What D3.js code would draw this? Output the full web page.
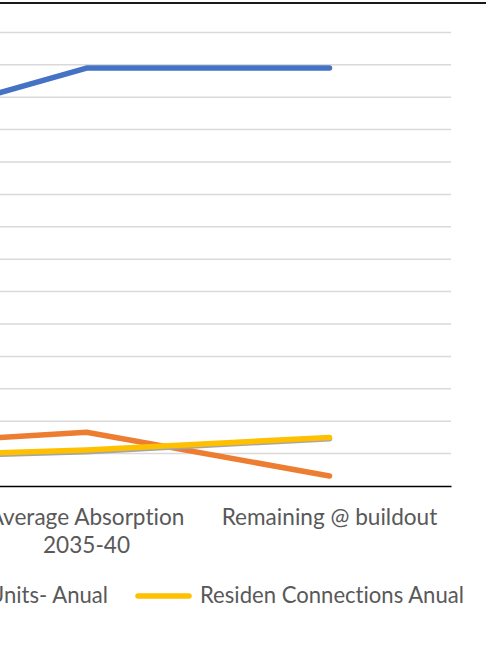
<!DOCTYPE html>
<html>
<head>
<meta charset="utf-8">
<script src="https://cdn.jsdelivr.net/npm/d3@7"></script>
<style>
  html, body { margin: 0; padding: 0; background: #fff; }
  svg { display: block; }
  text { font-family: "Lato", "Open Sans", sans-serif; fill: #595959; font-variant-ligatures: none; }
</style>
</head>
<body>
<svg id="chart" width="486" height="648"></svg>
<script>
// Absorption phases along the horizontal axis
const categories = ["Average Absorption 2030-35", "Average Absorption 2035-40", "Remaining @ buildout"];

// Series names and their values per phase
const seriesNames = ["Residen Units- Cumulative", "Commercial Units- Anual", "Residen Units- Anual", "Residen Connections Anual"];
const cumulativeUnits = [1077, 1290, 1290];
const commercialUnits = [120, 166, 31];
const residenUnits = [84, 106, 146];
const residenConnections = [88, 111, 150];

// Value axis ticks
const yTicks = [0, 100, 200, 300, 400, 500, 600, 700, 800, 900, 1000, 1100, 1200, 1300, 1400];

const colors = ["#4472C4", "#ED7D31", "#A5A5A5", "#FFC000"];
const seriesValues = [cumulativeUnits, commercialUnits, residenUnits, residenConnections];

const svg = d3.select("#chart");
const fontSize = 22.6;
const legendFontSize = 22.1;

// Plot area (the value axis sits off to the left)
const plotLeft = -278, plotRight = 451, plotTop = 32.4, plotBottom = 486;

const x = d3.scaleBand().domain(categories).range([plotLeft, plotRight]).padding(0);
const y = d3.scaleLinear().domain([0, 1400]).range([plotBottom, plotTop]);
const cx = c => x(c) + x.bandwidth() / 2;

// Frame line along the top
svg.append("rect").attr("x", 0).attr("y", 2).attr("width", 486).attr("height", 2).attr("fill", "#1a1a1a");

// Horizontal gridlines
svg.append("g").selectAll("line")
  .data(yTicks.filter(t => t > 0))
  .join("line")
  .attr("x1", plotLeft).attr("x2", plotRight)
  .attr("y1", d => y(d)).attr("y2", d => y(d))
  .attr("stroke", "#D9D9D9").attr("stroke-width", 1.5);

// Category axis
const xAxis = svg.append("g").attr("transform", `translate(0,${plotBottom})`)
  .call(d3.axisBottom(x).tickSize(0).tickPadding(0));
xAxis.select(".domain").attr("stroke", "#000").attr("stroke-width", 1.5);
xAxis.selectAll(".tick text").remove();

// Wrapped category labels
categories.forEach(c => {
  const t = svg.append("text")
    .attr("x", cx(c)).attr("y", 525)
    .attr("text-anchor", "middle")
    .style("font-size", fontSize + "px");
  const words = c.split(" ");
  let lines = [], line = [];
  words.forEach(w => {
    const test = line.concat(w).join(" ");
    t.text(test);
    if (t.node().getComputedTextLength() > x.bandwidth() - 20 && line.length) {
      lines.push(line.join(" "));
      line = [w];
    } else {
      line.push(w);
    }
  });
  lines.push(line.join(" "));
  t.text(null);
  lines.forEach((l, i) => {
    t.append("tspan").attr("x", cx(c)).attr("dy", i === 0 ? 0 : 28).text(l);
  });
});

// Series lines
const lineGen = d3.line().x((d, i) => cx(categories[i])).y(d => y(d));
svg.append("g").selectAll("path")
  .data(seriesValues)
  .join("path")
  .attr("d", d => lineGen(d))
  .attr("fill", "none")
  .attr("stroke", (d, i) => colors[i])
  .attr("stroke-width", 5.5)
  .attr("stroke-linecap", "round")
  .attr("stroke-linejoin", "round");

// Legend, laid out right to left from the last entry
const legend = svg.append("g");
const swatchW = 55, swatchGap = 9, entryGap = 28, legendY = 596;
let cursor = 136;
for (let i = seriesNames.length - 1; i >= 0; i--) {
  const g = legend.append("g");
  const txt = g.append("text")
    .attr("y", legendY + 6.5)
    .style("font-size", legendFontSize + "px")
    .text(seriesNames[i]);
  g.append("line")
    .attr("x1", cursor + 2).attr("x2", cursor + swatchW - 2)
    .attr("y1", legendY).attr("y2", legendY)
    .attr("stroke", colors[i]).attr("stroke-width", 5.5)
    .attr("stroke-linecap", "round");
  txt.attr("x", cursor + swatchW + swatchGap);
  if (i > 0) {
    const probe = legend.append("text").style("font-size", legendFontSize + "px").text(seriesNames[i - 1]);
    const pw = probe.node().getComputedTextLength();
    probe.remove();
    cursor = cursor - entryGap - pw - swatchGap - swatchW;
  }
}
</script>
</body>
</html>
